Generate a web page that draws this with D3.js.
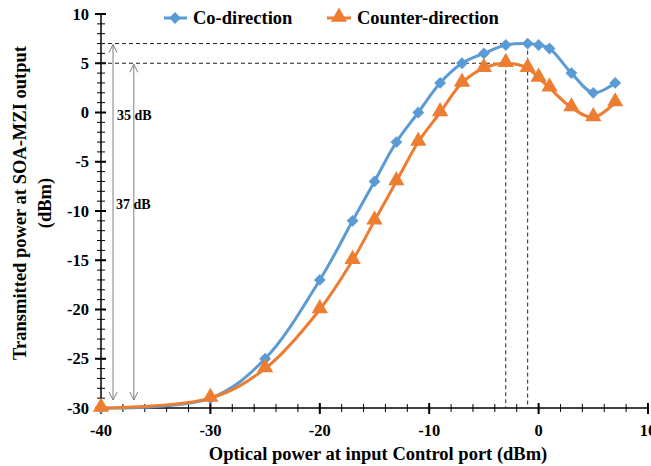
<!DOCTYPE html>
<html>
<head>
<meta charset="utf-8">
<script src="https://cdn.jsdelivr.net/npm/d3@7"></script>
</head>
<body style="margin:0;background:#fff">
<svg id="chart" width="651" height="466" style="display:block"></svg>
<script>
// ---- data ----
const xCo = [-40, -30, -25, -20, -17, -15, -13, -11, -9, -7, -5, -3, -1, 0, 1, 3, 5, 7];
const yCo = [-30, -29, -25, -17, -11, -7, -3, 0, 3, 5, 6, 6.85, 7, 6.85, 6.5, 4, 2, 3];
const xCounter = [-40, -30, -25, -20, -17, -15, -13, -11, -9, -7, -5, -3, -1, 0, 1, 3, 5, 7];
const yCounter = [-30, -29, -26, -20, -15, -11, -7, -3, 0, 3, 4.5, 5, 4.5, 3.5, 2.5, 0.5, -0.5, 1];
const seriesNames = ["Co-direction", "Counter-direction"];
const xMajorTicks = [-40, -30, -20, -10, 0, 10];
const yMajorTicks = [-30, -25, -20, -15, -10, -5, 0, 5, 10];
const peakCo = { x: -1, y: 7 };
const peakCounter = { x: -3, y: 5 };
const floorY = -30;
const arrowLabels = ["35 dB", "37 dB"];

// ---- setup ----
const FONT = '"Liberation Serif", "Times New Roman", serif';
const svg = d3.select("#chart");
const x = d3.scaleLinear().domain([-40, 10]).range([101, 648]);
const y = d3.scaleLinear().domain([-30, 10]).range([408, 14]);
const blue = "#5B9BD5", orange = "#ED7D31";

function txt(sel) {
  return sel.style("font-family", FONT).style("font-weight", "bold").attr("fill", "#000");
}

// ---- axes ----
const ax = svg.append("g");
ax.selectAll(".xminor").data(d3.range(-40, 10.01, 2)).enter().append("line")
  .attr("x1", d => x(d)).attr("x2", d => x(d))
  .attr("y1", y(-30) - 4).attr("y2", y(-30) + 4)
  .attr("stroke", "#000").attr("stroke-width", 1);
ax.selectAll(".xmajor").data(xMajorTicks).enter().append("line")
  .attr("x1", d => x(d)).attr("x2", d => x(d))
  .attr("y1", y(-30) - 5).attr("y2", y(-30) + 6)
  .attr("stroke", "#000").attr("stroke-width", 2);
ax.selectAll(".yminor").data(d3.range(-30, 10.01, 1)).enter().append("line")
  .attr("x1", x(-40) - 4).attr("x2", x(-40) + 4)
  .attr("y1", d => y(d)).attr("y2", d => y(d))
  .attr("stroke", "#000").attr("stroke-width", 1);
ax.selectAll(".ymajor").data(yMajorTicks).enter().append("line")
  .attr("x1", x(-40) - 6).attr("x2", x(-40) + 5)
  .attr("y1", d => y(d)).attr("y2", d => y(d))
  .attr("stroke", "#000").attr("stroke-width", 2);
ax.append("line").attr("x1", x(-40)).attr("x2", x(10)).attr("y1", y(-30)).attr("y2", y(-30))
  .attr("stroke", "#000").attr("stroke-width", 1.5);
ax.append("line").attr("x1", x(-40)).attr("x2", x(-40)).attr("y1", y(-30)).attr("y2", y(10))
  .attr("stroke", "#000").attr("stroke-width", 1.5);

txt(ax.selectAll(".xlab").data(xMajorTicks).enter().append("text"))
  .attr("x", d => x(d)).attr("y", 436)
  .attr("text-anchor", "middle").style("font-size", "16.5px")
  .text(d => d);
txt(ax.selectAll(".ylab").data(yMajorTicks).enter().append("text"))
  .attr("x", 89).attr("y", d => y(d) + 5.5)
  .attr("text-anchor", "end").style("font-size", "16.5px")
  .text(d => d);

// axis titles
txt(svg.append("text")).attr("x", 378).attr("y", 460)
  .attr("text-anchor", "middle").style("font-size", "18.5px")
  .text("Optical power at input Control port (dBm)");
const yt = txt(svg.append("text")).attr("transform", "translate(0,203) rotate(-90)")
  .attr("text-anchor", "middle").style("font-size", "18.5px");
yt.append("tspan").attr("x", 0).attr("y", 26).text("Transmitted power at SOA-MZI output");
yt.append("tspan").attr("x", 0).attr("y", 51).text("(dBm)");

// ---- dashed guides ----
const dash = svg.append("g").attr("stroke", "#222").attr("stroke-width", 1).attr("stroke-dasharray", "4,3").attr("fill", "none");
dash.append("line").attr("x1", x(-40)).attr("x2", x(peakCo.x)).attr("y1", y(peakCo.y)).attr("y2", y(peakCo.y));
dash.append("line").attr("x1", x(-40)).attr("x2", x(peakCounter.x)).attr("y1", y(peakCounter.y)).attr("y2", y(peakCounter.y));
dash.append("line").attr("x1", x(peakCo.x)).attr("x2", x(peakCo.x)).attr("y1", y(peakCo.y)).attr("y2", y(floorY));
dash.append("line").attr("x1", x(peakCounter.x)).attr("x2", x(peakCounter.x)).attr("y1", y(peakCounter.y)).attr("y2", y(floorY));

// ---- double arrows ----
const arrowG = svg.append("g").attr("stroke", "#7f7f7f").attr("stroke-width", 1).attr("fill", "none");
function dArrow(xv, yTop, yBot) {
  const px = x(xv), t = y(yTop) + 1, b = y(yBot) - 8;
  arrowG.append("line").attr("x1", px).attr("x2", px).attr("y1", t).attr("y2", b);
  arrowG.append("path").attr("d", `M${px - 4},${t + 8} L${px},${t} L${px + 4},${t + 8}`);
  arrowG.append("path").attr("d", `M${px - 4},${b - 8} L${px},${b} L${px + 4},${b - 8}`);
}
dArrow(-38.9, peakCo.y, floorY);
dArrow(-37, peakCounter.y, floorY);
txt(svg.append("text")).attr("x", 117).attr("y", 120).style("font-size", "14px").text(arrowLabels[0]);
txt(svg.append("text")).attr("x", 116).attr("y", 209).style("font-size", "14px").text(arrowLabels[1]);

// ---- series ----
const line = d3.line().x(d => x(d[0])).y(d => y(d[1])).curve(d3.curveCatmullRom.alpha(0.5));
const coData = xCo.map((v, i) => [v, yCo[i]]);
const ctData = xCounter.map((v, i) => [v, yCounter[i]]);

svg.append("path").datum(coData).attr("d", line).attr("fill", "none").attr("stroke", blue).attr("stroke-width", 3);
svg.append("path").datum(ctData).attr("d", line).attr("fill", "none").attr("stroke", orange).attr("stroke-width", 3);

const diamond = d3.symbol().type(d3.symbolSquare).size(70);
const triangle = d3.symbol().type(d3.symbolTriangle).size(115);

svg.selectAll(".co").data(coData).enter().append("path")
  .attr("d", diamond).attr("transform", d => `translate(${x(d[0])},${y(d[1])}) rotate(45)`).attr("fill", blue);
svg.selectAll(".ct").data(ctData).enter().append("path")
  .attr("d", triangle).attr("transform", d => `translate(${x(d[0])},${y(d[1]) - 1})`).attr("fill", orange);

// ---- legend ----
const lg = svg.append("g");
lg.append("line").attr("x1", 164).attr("x2", 187).attr("y1", 18).attr("y2", 18).attr("stroke", blue).attr("stroke-width", 3);
lg.append("path").attr("d", diamond).attr("transform", "translate(175,18) rotate(45)").attr("fill", blue);
txt(lg.append("text")).attr("x", 193).attr("y", 24).style("font-size", "18.5px").text(seriesNames[0]);
lg.append("line").attr("x1", 327).attr("x2", 351).attr("y1", 18).attr("y2", 18).attr("stroke", orange).attr("stroke-width", 3);
lg.append("path").attr("d", triangle).attr("transform", "translate(339,17)").attr("fill", orange);
txt(lg.append("text")).attr("x", 357).attr("y", 24).style("font-size", "18.5px").text(seriesNames[1]);
</script>
</body>
</html>
